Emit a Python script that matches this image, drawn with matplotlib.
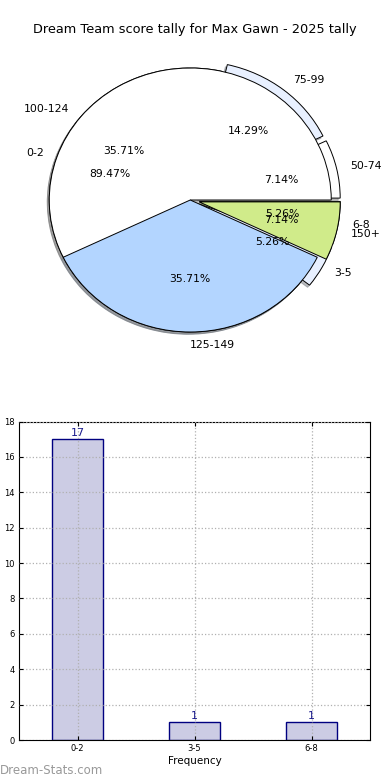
import matplotlib.pyplot as plt

# score pie (games per score band)
score_labels = ['50-74', '75-99', '100-124', '125-149', '150+']
score_counts = [1, 2, 5, 5, 1]
score_colors = ['#ffffff', '#e8f0ff', '#ffffff', '#b3d5ff', '#d0eb8a']
score_explode = [0.065, 0.065, 0, 0, 0.065]

# frequency pie / bars
freq_labels = ['0-2', '3-5', '6-8']
freq_counts = [17, 1, 1]
freq_colors = ['#ffffff', '#e8f0ff', '#d0eb8a']
freq_explode = [0, 0.065, 0.065]

W, H = 390, 780
fig = plt.figure(figsize=(W / 100, H / 100), dpi=100)
fig.text(0.5, 1 - 30 / H, 'Dream Team score tally for Max Gawn - 2025 tally',
         ha='center', va='center', fontsize=9.3)

ax = fig.add_axes([14 / W, 415 / H, 352.5 / W, 330 / H])
wkw = dict(edgecolor='black', linewidth=0.7)
tkw = dict(fontsize=7.8)
shadow = dict(ox=-0.01, oy=-0.012, shade=0.5)
w1, t1, a1 = ax.pie(score_counts, labels=score_labels, colors=score_colors,
                    explode=score_explode, autopct='%.2f%%', shadow=shadow,
                    startangle=0, wedgeprops=wkw, textprops=tkw)
w2, t2, a2 = ax.pie(freq_counts, labels=freq_labels, colors=freq_colors,
                    explode=freq_explode, autopct='%.2f%%', shadow=shadow,
                    startangle=0, wedgeprops=wkw, textprops=tkw)
# the two lower score wedges sit above the frequency pie
for w in w1[3:]:
    w.set_zorder(2)
t1[3].set_ha('left')
ax.set_aspect('auto')
ax.set_xlim(-1.25, 1.25)
ax.set_ylim(-1.25, 1.25)

# bar chart
bx = fig.add_axes([19 / W, 40 / H, 351 / W, 318.5 / H])
pos = list(range(len(freq_labels)))
bars = bx.bar(pos, freq_counts, width=0.44, color='#ccccE4',
              edgecolor='#000080', linewidth=1.0, zorder=1)
bx.bar_label(bars, color='#1a1a8c', fontsize=8, padding=1)
bx.set_xlim(-0.5, 2.5)
bx.set_ylim(0, 18)
bx.set_yticks(range(0, 19, 2))
bx.set_xticks(pos, freq_labels)
bx.grid(True, linestyle=':', color='#b0b0b0', linewidth=0.9, zorder=2)
bx.set_axisbelow(False)
bx.tick_params(labelsize=6, direction='in', top=True, right=True, length=3, pad=3)
bx.set_xlabel('Frequency', fontsize=7.5, labelpad=2)
bx.set_ylabel('Score Intervals', fontsize=7.5)
bx.yaxis.set_label_coords(-0.045, 0.5)

fig.text(0, 1 - 770 / H, 'Dream-Stats.com', ha='left', va='center',
         fontsize=8.5, color='#999999')

fig.savefig('out.png', dpi=100)
